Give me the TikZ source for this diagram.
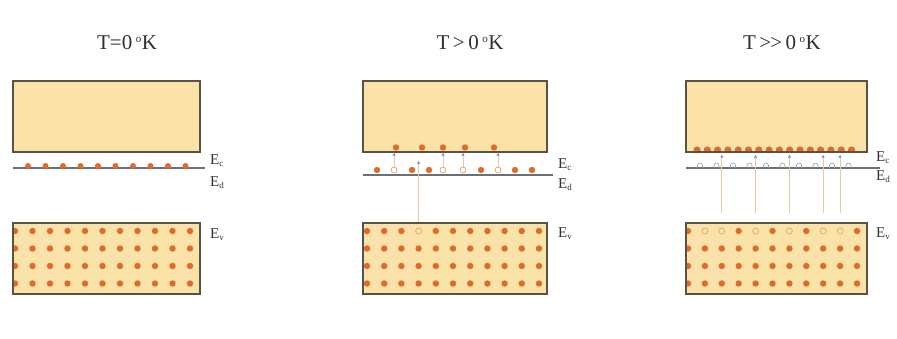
\documentclass[tikz,border=0pt]{standalone}
\usepackage{fontspec}
\setmainfont{Liberation Serif}
\usetikzlibrary{arrows.meta}
\definecolor{bandfill}{HTML}{FAE2A8}
\definecolor{bandedge}{HTML}{5A5244}
\definecolor{dotc}{HTML}{E06A2C}
\definecolor{holec}{HTML}{E6A466}
\definecolor{levelc}{HTML}{6A7078}
\definecolor{jumpc}{HTML}{E2CBA2}
\definecolor{tipc}{HTML}{6A74C8}
\definecolor{textc}{HTML}{303030}
\tikzset{
  band/.style={fill=bandfill,draw=bandedge,line width=1.1pt},
  bandline/.style={draw=bandedge,line width=1.1pt},
  level/.style={draw=levelc,line width=1.2pt},
  elec/.style={fill=dotc},
  hole/.style={draw=holec,line width=0.7pt},
  ion/.style={draw=levelc!70,line width=0.6pt},
  jump/.style={draw=jumpc,line width=0.9pt,-{Stealth[length=3pt,width=3pt,color=tipc]}},
  title/.style={font=\fontsize{21}{24}\selectfont,inner sep=0pt,text=textc},
  lab/.style={font=\fontsize{15}{17}\selectfont,anchor=west,inner sep=0pt,text=textc}
}
\newcommand{\Elab}[1]{E\textsubscript{\fontsize{9}{10}\selectfont #1}}
\newcommand{\degK}{\textsuperscript{\fontsize{11}{12}\selectfont o}K}
\begin{document}
\begin{tikzpicture}[x=1pt,y=-1pt]
\useasboundingbox (0,0) rectangle (897,338);
\fill[white] (0,0) rectangle (897,338);

% ---------------- Panel 1 : T = 0 K ----------------
\node[title] (t1) at (127,43) {T=0\,\degK};
\draw[band] (13,81) rectangle (200,152);
\draw[level] (13,168) -- (205,168);
\foreach \x in {28,45.5,63,80.5,98,115.5,133,150.5,168,185.5}
  \fill[elec] (\x,166) circle[radius=3pt];
\draw[band] (13,223) rectangle (200,294);
\begin{scope}
  \clip (13,223) rectangle (200,294);
  \foreach \y in {231,248.5,266,283.5}
    \foreach \x in {15,32.5,50,67.5,85,102.5,120,137.5,155,172.5,190}
      \fill[elec] (\x,\y) circle[radius=3.2pt];
\end{scope}
\draw[bandline] (13,223) rectangle (200,294);
\node[lab] (c1) at (210,161) {\Elab{c}};
\node[lab] (d1) at (210,183) {\Elab{d}};
\node[lab] (v1) at (210,235) {\Elab{v}};

% ---------------- Panel 2 : T > 0 K ----------------
\node[title] (t2) at (470,43) {T\,>\,0\,\degK};
\draw[band] (363,81) rectangle (547,152);
\draw[level] (363,175) -- (553,175);
% electrons in conduction band
\foreach \x in {396,422,443,465,494}
  \fill[elec] (\x,147.5) circle[radius=3.2pt];
% donor level: ionised (open) and neutral (filled)
\foreach \x in {377,412,429,481,515,532}
  \fill[elec] (\x,170) circle[radius=3.2pt];
\foreach \x/\n in {394/a,443/b,463/c,498/d}{
  \draw[hole] (\x,170) circle[radius=3pt];
  \coordinate (p2\n) at (\x,166.5);
}
\coordinate (q2a) at (394,153);
\coordinate (q2b) at (443,153);
\coordinate (q2c) at (463,153);
\coordinate (q2d) at (498,153);
\foreach \n in {a,b,c,d}
  \draw[jump] (p2\n) -- (q2\n);
% valence band
\draw[band] (363,223) rectangle (547,294);
\begin{scope}
  \clip (363,223) rectangle (547,294);
  \foreach \y in {248.5,266,283.5}
    \foreach \x in {367,384.2,401.4,418.6,435.8,453,470.2,487.4,504.6,521.8,539}
      \fill[elec] (\x,\y) circle[radius=3.2pt];
  \foreach \x in {367,384.2,401.4,435.8,453,470.2,487.4,504.6,521.8,539}
    \fill[elec] (\x,231) circle[radius=3.2pt];
  \draw[hole] (418.6,231) circle[radius=3pt];
\end{scope}
\draw[bandline] (363,223) rectangle (547,294);
\coordinate (h2) at (418.6,222);
\coordinate (e2) at (418.6,161);
\draw[jump] (h2) -- (e2);
\node[lab] (c2) at (558,165) {\Elab{c}};
\node[lab] (d2) at (558,185) {\Elab{d}};
\node[lab] (v2) at (558,234) {\Elab{v}};

% ---------------- Panel 3 : T >> 0 K ----------------
\node[title] (t3) at (782,43) {T\,{>}\kern-1pt{>}\,0\,\degK};
\draw[band] (686,81) rectangle (867,152);
\begin{scope}
  \clip (686,81) rectangle (867,152);
  \foreach \i in {0,...,15}
    \fill[elec] (697+\i*10.3,150) circle[radius=3.6pt];
\end{scope}
\draw[bandline] (686,81) rectangle (867,152);
\draw[level] (686,168) -- (880,168);
\foreach \i in {0,...,9}
  \draw[ion] (697.5+\i*16.5,168) -- (697.5+\i*16.5,165.5) arc[start angle=180,end angle=0,radius=2.5pt] -- (702.5+\i*16.5,168);
% valence band
\draw[band] (686,223) rectangle (867,294);
\begin{scope}
  \clip (686,223) rectangle (867,294);
  \foreach \y in {248.5,266,283.5}
    \foreach \x in {688,704.9,721.8,738.7,755.6,772.5,789.4,806.3,823.2,840.1,857}
      \fill[elec] (\x,\y) circle[radius=3.2pt];
  \foreach \x in {688,738.7,772.5,806.3,857}
    \fill[elec] (\x,231) circle[radius=3.2pt];
  \foreach \x in {704.9,721.8,755.6,789.4,823.2,840.1}
    \draw[hole] (\x,231) circle[radius=3pt];
\end{scope}
\draw[bandline] (686,223) rectangle (867,294);
\foreach \x/\n in {721.8/a,755.6/b,789.4/c,823.2/d,840.1/e}{
  \coordinate (h3\n) at (\x,213);
  \coordinate (e3\n) at (\x,155);
}
\foreach \n in {a,b,c,d,e}
  \draw[jump] (h3\n) -- (e3\n);
\node[lab] (c3) at (876,158) {\Elab{c}};
\node[lab] (d3) at (876,177) {\Elab{d}};
\node[lab] (v3) at (876,234) {\Elab{v}};
\end{tikzpicture}
\end{document}
